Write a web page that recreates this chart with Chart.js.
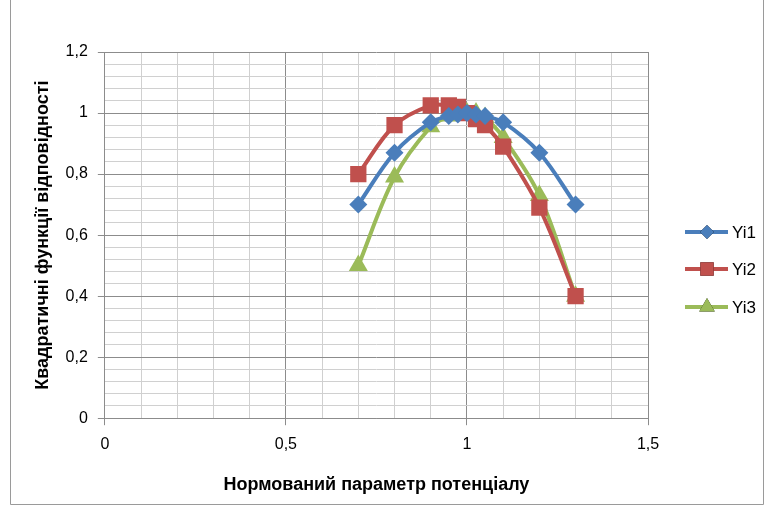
<!DOCTYPE html>
<html>
<head>
<meta charset="utf-8">
<script src="https://cdn.jsdelivr.net/npm/chart.js@4/dist/chart.umd.min.js"></script>
<style>
  html, body { margin: 0; padding: 0; background: #fff; }
  #wrap { position: relative; width: 769px; height: 518px; }
</style>
</head>
<body>
<div id="wrap"><canvas id="chart-scatter"></canvas></div>
<script>
// data
const xValues = [0.7, 0.8, 0.9, 0.95, 0.975, 1.0, 1.025, 1.05, 1.1, 1.2, 1.3];
const yi1 = [0.70, 0.87, 0.97, 0.99, 0.995, 1.00, 0.995, 0.99, 0.97, 0.87, 0.70];
const yi2 = [0.80, 0.96, 1.025, 1.025, 1.02, 1.00, 0.98, 0.96, 0.89, 0.69, 0.40];
const yi3 = [0.50, 0.79, 0.955, 0.99, 1.00, 1.00, 1.00, 0.985, 0.92, 0.73, 0.40];
const seriesNames = ["Yi1", "Yi2", "Yi3"];
const xTitle = "Нормований параметр потенціалу";
const yTitle = "Квадратичні функції відповідності";

const pts = (ys) => xValues.map((x, i) => ({ x: x, y: ys[i] }));
const fontTick = { family: "Liberation Sans", size: 16 };
const fontTitle = { family: "Liberation Sans", size: 18, weight: "bold" };

function isMajor(v, step) {
  return Math.abs(Math.round(v * 100) % Math.round(step * 100)) === 0;
}

// legend: line with marker, like the spreadsheet one
const sideLegend = {
  id: "sideLegend",
  afterDraw(chart) {
    const ctx = chart.ctx;
    const rows = [232, 269, 307];
    chart.data.datasets.forEach((ds, i) => {
      const y = rows[i];
      ctx.save();
      ctx.strokeStyle = ds.borderColor;
      ctx.lineWidth = 4;
      ctx.beginPath();
      ctx.moveTo(685, y);
      ctx.lineTo(728, y);
      ctx.stroke();
      Chart.helpers.drawPoint(ctx, {
        pointStyle: ds.pointStyle, radius: ds.pointRadius - 2, rotation: 0, borderWidth: 0
      }, 707, y);
      ctx.fillStyle = ds.backgroundColor;
      ctx.fill();
      ctx.fillStyle = "#000";
      ctx.font = "17px Liberation Sans";
      ctx.textBaseline = "middle";
      ctx.fillText(ds.label, 732, y + 1);
      ctx.restore();
    });
    // outer frame
    ctx.save();
    ctx.strokeStyle = "#9a9a9a";
    ctx.lineWidth = 1;
    ctx.beginPath();
    ctx.moveTo(10.5, 0);
    ctx.lineTo(10.5, 504.5);
    ctx.lineTo(763.5, 504.5);
    ctx.lineTo(763.5, 0);
    ctx.stroke();
    ctx.restore();
  }
};

new Chart(document.getElementById("chart-scatter").getContext("2d"), {
  type: "scatter",
  data: {
    datasets: [
      {
        label: seriesNames[0],
        data: pts(yi1),
        showLine: true,
        tension: 0.35,
        borderColor: "#4a7ebb",
        backgroundColor: "#4a7ebb",
        borderWidth: 4,
        pointStyle: "rectRot",
        pointRadius: 9,
        pointBorderWidth: 0,
      },
      {
        label: seriesNames[1],
        data: pts(yi2),
        showLine: true,
        tension: 0.35,
        borderColor: "#c0504d",
        backgroundColor: "#c0504d",
        borderWidth: 4,
        pointStyle: "rect",
        pointRadius: 11.5,
        pointBorderWidth: 0,
      },
      {
        label: seriesNames[2],
        data: pts(yi3),
        showLine: true,
        tension: 0.35,
        borderColor: "#9bbb59",
        backgroundColor: "#9bbb59",
        borderWidth: 4,
        pointStyle: "triangle",
        pointRadius: 11,
        pointBorderWidth: 0,
      },
    ],
  },
  options: {
    responsive: true,
    maintainAspectRatio: false,
    animation: false,
    layout: { padding: { left: 28, top: 52, right: 121, bottom: 18 } },
    plugins: {
      legend: { display: false },
      tooltip: { enabled: false },
    },
    scales: {
      x: {
        type: "linear",
        min: 0,
        max: 1.5,
        ticks: {
          stepSize: 0.1,
          autoSkip: false,
          maxRotation: 0,
          padding: 10,
          color: "#000",
          font: fontTick,
          callback: (v) => isMajor(v, 0.5) ? String(Math.round(v * 10) / 10).replace(".", ",") : "",
        },
        grid: {
          color: (c) => isMajor(c.tick.value, 0.5) ? "#8c8c8c" : "#d0d0d0",
          tickColor: (c) => isMajor(c.tick.value, 0.5) ? "#8c8c8c" : "rgba(0,0,0,0)",
          tickLength: 7,
        },
        border: { color: "#8c8c8c" },
        title: { display: true, text: xTitle, color: "#000", font: fontTitle, padding: { top: 10 } },
      },
      y: {
        min: 0,
        max: 1.2,
        ticks: {
          stepSize: 0.04,
          autoSkip: false,
          padding: 10,
          color: "#000",
          font: fontTick,
          callback: (v) => isMajor(v, 0.2) ? String(Math.round(v * 10) / 10).replace(".", ",") : "",
        },
        grid: {
          color: (c) => isMajor(c.tick.value, 0.2) ? "#8c8c8c" : "#d0d0d0",
          tickColor: (c) => isMajor(c.tick.value, 0.2) ? "#8c8c8c" : "rgba(0,0,0,0)",
          tickLength: 7,
        },
        border: { color: "#8c8c8c" },
        title: { display: true, text: yTitle, color: "#000", font: fontTitle, padding: { bottom: 2 } },
      },
    },
  },
  plugins: [sideLegend],
});
</script>
</body>
</html>
